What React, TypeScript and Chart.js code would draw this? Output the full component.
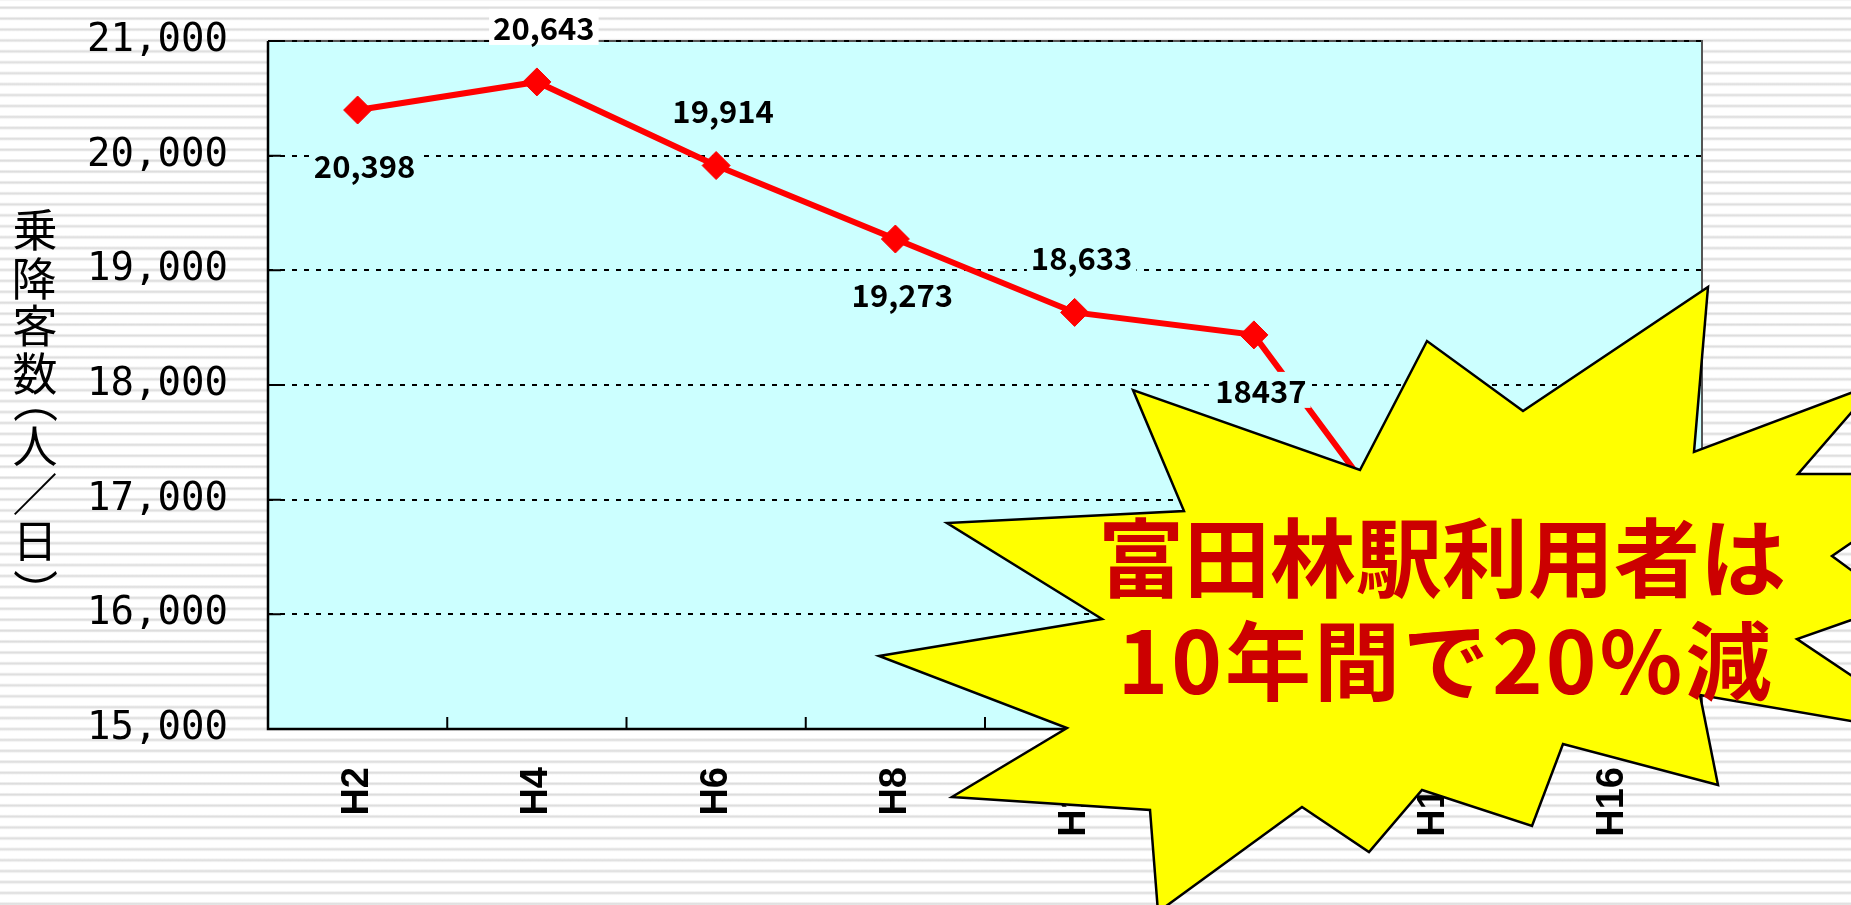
import React, { useEffect, useRef } from 'react';
import { Chart, registerables } from 'chart.js';

Chart.register(...registerables);

// ---- data ----
const categories = ['H2', 'H4', 'H6', 'H8', 'H10', 'H12', 'H14', 'H16'];
const riders = [20398, 20643, 19914, 19273, 18633, 18437, 16330, 16050];
const pointLabels = ['20,398', '20,643', '19,914', '19,273', '18,633', '18437', '16,330', '16,050'];
const labelSides = [1, -1, -1, 1, -1, 1, -1, -1]; // 1 = below the point, -1 = above
const yMin = 15000;
const yMax = 21000;
const yStep = 1000;
const yTitleChars = ['乗', '降', '客', '数', '（', '人', '／', '日', '）'];
const calloutLines = ['富田林駅利用者は', '10年間で20%減'];

// ---- styling / decoration ----
const MONO = "'DejaVu Sans Mono', 'Noto Sans CJK JP', monospace";
const CJK = "'Noto Sans CJK JP', 'Noto Sans', sans-serif";
const LBL = "'Noto Sans CJK JP', 'Noto Sans', sans-serif";
const XFONT = "'Liberation Sans', Arial, sans-serif";
const PLOT_BG = '#CCFFFF';
const yTitleCenters = [230, 278, 325, 373, 415, 446, 494, 542, 577];
const STAR: [number, number][] = [
  [1708, 287], [1694, 452], [1877, 383], [1798, 474], [1952, 474], [1832, 556],
  [1897, 604], [1797, 639], [1943, 737], [1700, 695], [1718, 785], [1563, 744],
  [1532, 826], [1422, 790], [1369, 852], [1302, 807], [1158, 912], [1150, 810],
  [952, 797], [1067, 728], [879, 656], [1102, 619], [947, 523], [1184, 511],
  [1133, 390], [1360, 470], [1427, 341], [1523, 411],
];

const decorPlugin = {
  id: 'decor',
  beforeDraw(chart: any) {
    const { ctx, chartArea: a } = chart;
    ctx.save();
    ctx.fillStyle = PLOT_BG;
    ctx.fillRect(a.left, a.top, a.right - a.left, a.bottom - a.top);
    ctx.strokeStyle = '#555';
    ctx.lineWidth = 2;
    ctx.beginPath();
    ctx.moveTo(a.left, a.top);
    ctx.lineTo(a.right, a.top);
    ctx.lineTo(a.right, a.bottom);
    ctx.stroke();
    ctx.restore();
  },
  beforeDatasetsDraw(chart: any) {
    const { ctx, chartArea: a, scales } = chart;
    ctx.save();
    ctx.strokeStyle = '#000';
    ctx.lineWidth = 2.5;
    ctx.beginPath();
    ctx.moveTo(a.left, a.top);
    ctx.lineTo(a.left, a.bottom);
    ctx.lineTo(a.right, a.bottom);
    ctx.stroke();
    // inside tick marks
    ctx.lineWidth = 2;
    const ys = scales.y;
    ctx.beginPath();
    ys.ticks.forEach((t: any) => {
      const py = ys.getPixelForValue(t.value);
      ctx.moveTo(a.left, py);
      ctx.lineTo(a.left + 13, py);
    });
    const xs = scales.x;
    const n = categories.length;
    for (let i = 1; i < n; i++) {
      const px = (xs.getPixelForValue(i - 1) + xs.getPixelForValue(i)) / 2;
      ctx.moveTo(px, a.bottom);
      ctx.lineTo(px, a.bottom - 12);
    }
    ctx.stroke();
    ctx.restore();
  },
  afterDatasetsDraw(chart: any) {
    const { ctx, chartArea: a } = chart;
    const meta = chart.getDatasetMeta(0);
    ctx.save();
    ctx.font = `bold 31px ${LBL}`;
    ctx.textAlign = 'center';
    ctx.textBaseline = 'middle';
    meta.data.forEach((pt: any, i: number) => {
      const text = pointLabels[i];
      const cx = pt.x + 7;
      const cy = pt.y + labelSides[i] * 55;
      const w = ctx.measureText(text).width + 8;
      const h = 36;
      ctx.fillStyle = cy - h / 2 < a.top ? '#FFFFFF' : PLOT_BG;
      ctx.fillRect(cx - w / 2, cy - h / 2, w, h);
      ctx.fillStyle = '#000';
      ctx.fillText(text, cx, cy + 1);
    });
    ctx.restore();
  },
  afterDraw(chart: any) {
    const { ctx } = chart;
    ctx.save();
    // vertical axis title
    ctx.fillStyle = '#000';
    ctx.font = `45px ${CJK}`;
    ctx.textAlign = 'left';
    ctx.textBaseline = 'alphabetic';
    yTitleChars.forEach((ch, i) => {
      const m = ctx.measureText(ch);
      const cx = (m.actualBoundingBoxRight - m.actualBoundingBoxLeft) / 2;
      const cy = (m.actualBoundingBoxDescent - m.actualBoundingBoxAscent) / 2;
      ctx.save();
      ctx.translate(35, yTitleCenters[i]);
      if (ch === '（' || ch === '）') ctx.rotate(Math.PI / 2);
      ctx.fillText(ch, -cx, -cy);
      ctx.restore();
    });
    // starburst callout
    ctx.beginPath();
    STAR.forEach(([x, y], i) => (i === 0 ? ctx.moveTo(x, y) : ctx.lineTo(x, y)));
    ctx.closePath();
    ctx.fillStyle = '#FFFF00';
    ctx.fill();
    ctx.lineJoin = 'miter';
    ctx.strokeStyle = '#000';
    ctx.lineWidth = 2.5;
    ctx.stroke();
    ctx.fillStyle = '#CC0000';
    ctx.font = `bold 86px ${CJK}`;
    ctx.textAlign = 'center';
    ctx.textBaseline = 'middle';
    ctx.fillText(calloutLines[0], 1442, 558);
    try {
      (ctx as any).letterSpacing = '3px';
    } catch (e) {}
    ctx.fillText(calloutLines[1], 1446, 661);
    ctx.restore();
  },
};

export default function App() {
  const ref = useRef<HTMLCanvasElement>(null);
  useEffect(() => {
    const chart = new Chart(ref.current as HTMLCanvasElement, {
      type: 'line',
      data: {
        labels: categories,
        datasets: [
          {
            data: riders,
            borderColor: '#FF0000',
            borderWidth: 6,
            pointStyle: 'rectRot',
            pointRadius: 14,
            pointBackgroundColor: '#FF0000',
            pointBorderColor: '#FF0000',
            pointBorderWidth: 1,
            tension: 0,
          },
        ],
      },
      options: {
        animation: false,
        responsive: false,
        devicePixelRatio: 1,
        layout: { padding: { top: 41, right: 149, bottom: 0, left: 0 } },
        plugins: { legend: { display: false }, tooltip: { enabled: false }, title: { display: false } },
        scales: {
          x: {
            type: 'category',
            offset: true,
            grid: { display: false, drawTicks: false },
            border: { display: false },
            ticks: {
              color: '#000',
              font: { family: XFONT, size: 38, weight: 'bold' },
              maxRotation: 90,
              minRotation: 90,
              padding: 38,
              autoSkip: false,
            },
            afterFit: (s: any) => {
              s.height = 176;
              s.paddingLeft = 0;
              s.paddingRight = 0;
            },
          },
          y: {
            min: yMin,
            max: yMax,
            grid: { color: '#000', lineWidth: 2, drawTicks: false },
            border: { display: false, dash: [5, 7] },
            ticks: {
              stepSize: yStep,
              color: '#000',
              padding: 40,
              font: { family: MONO, size: 39 },
              callback: (v: any) => Number(v).toLocaleString('en-US'),
            },
            afterFit: (s: any) => {
              s.width = 268;
              s.paddingTop = 0;
              s.paddingBottom = 0;
            },
          },
        },
      },
      plugins: [decorPlugin],
    } as any);
    return () => chart.destroy();
  }, []);

  const stripes =
    'repeating-linear-gradient(to bottom, #ffffff 0px, #ffffff 3.5px, #e9e9e9 4.5px, #dadada 5.5px, #e9e9e9 6.5px, #ffffff 7.5px, #ffffff 10.93px)';

  return (
    <div
      style={{
        position: 'fixed',
        left: 0,
        top: 0,
        width: 1851,
        height: 905,
        overflow: 'hidden',
        backgroundImage: stripes,
        backgroundPosition: '0 2.2px',
      }}
    >
      <canvas ref={ref} width={1851} height={905} style={{ display: 'block', width: 1851, height: 905 }} />
    </div>
  );
}
